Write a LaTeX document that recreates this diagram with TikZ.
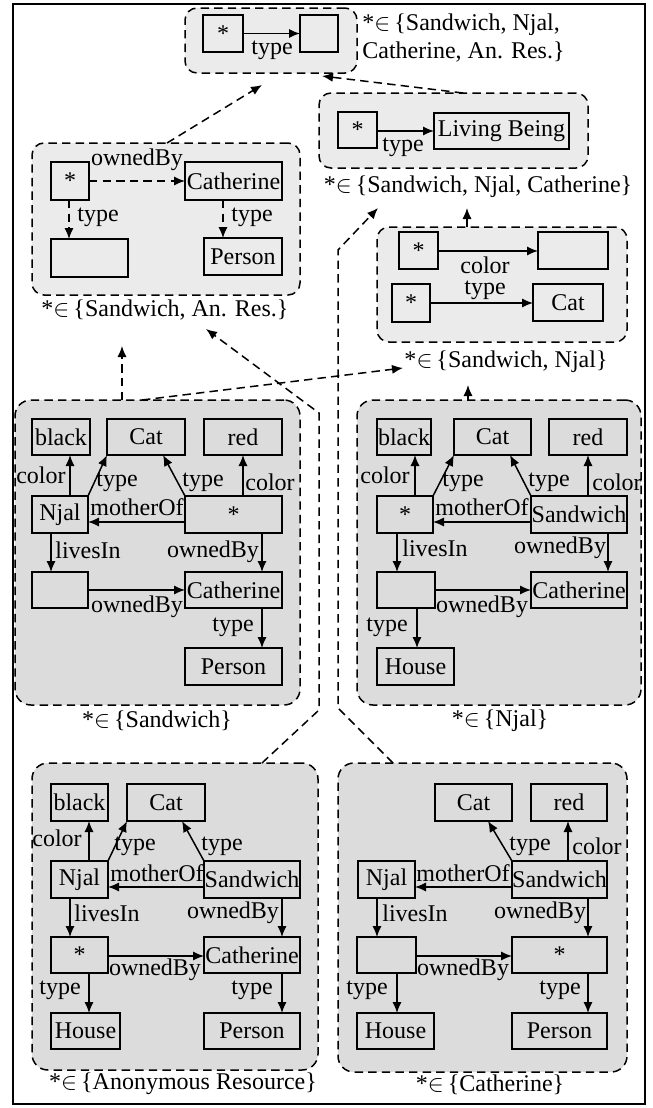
\documentclass[tikz,border=0pt]{standalone}
\usepackage{fontspec}
\setmainfont{Liberation Serif}
\usetikzlibrary{arrows.meta}
\definecolor{lightp}{HTML}{EBEBEB}
\definecolor{darkp}{HTML}{DCDCDC}
\newcommand{\mybox}[6]{\node[boxst, minimum width={(#4-#2)*0.5pt}, minimum height={(#5-#3)*0.5pt}] (#1) at ({(#2+#4)/2},{(#3+#5)/2}) {#6};}
\newcommand{\mypanel}[6]{\node[panelst, fill=#6, minimum width={(#4-#2)*0.5pt}, minimum height={(#5-#3)*0.5pt}] (#1) at ({(#2+#4)/2},{(#3+#5)/2}) {};}
\newcommand{\mylab}[4]{\node[lblst] (#1) at (#2,#3) {#4};}
\tikzset{
  boxst/.style={draw, line width=0.75pt, inner sep=0pt, outer sep=0pt},
  panelst/.style={draw, line width=0.75pt, dash pattern=on 4.2pt off 2.6pt, rounded corners=6pt, inner sep=0pt, outer sep=0pt},
  lblst/.style={inner sep=0pt},
  arr/.style={draw, line width=0.75pt, -{Latex[length=5.5pt,width=4.6pt]}},
  darr/.style={arr, dash pattern=on 4.2pt off 2.6pt},
}
\begin{document}
\begin{tikzpicture}[x=0.5pt, y=-0.5pt, font=\fontsize{12}{14}\selectfont]
\useasboundingbox (0,0) rectangle (653,1108);
\fill[white] (0,0) rectangle (653,1108);
\draw[line width=1pt] (12.5,4) rectangle (645,1104);

% ---------- panels ----------
\mypanel{pA}{185}{8}{357}{73}{lightp}
\mypanel{pB}{319}{93}{588}{168}{lightp}
\mypanel{pC}{32}{143}{300}{295}{lightp}
\mypanel{pD}{377}{227}{627}{342}{lightp}
\tikzset{panelst/.append style={rounded corners=8pt}}
\mypanel{pE}{15}{400}{300}{705}{darkp}
\mypanel{pF}{357}{400}{641}{705}{darkp}
\mypanel{pG}{32}{763}{318}{1070}{darkp}
\mypanel{pH}{338}{763}{627}{1072}{darkp}

% ---------- panel labels ----------
\node[lblst, anchor=west, align=left] (lA) at (362,38.5) {*$\in$\,\{Sandwich, Njal,\\Catherine, An. Res.\}};
\mylab{lB}{478}{187}{*$\in$\,\{Sandwich, Njal, Catherine\}}
\mylab{lC}{165}{310}{*$\in$\,\{Sandwich, An. Res.\}}
\mylab{lD}{506}{362}{*$\in$\,\{Sandwich, Njal\}}
\mylab{lE}{157}{721}{*$\in$\,\{Sandwich\}}
\mylab{lF}{500}{721}{*$\in$\,\{Njal\}}
\mylab{lG}{183}{1084}{*$\in$\,\{Anonymous Resource\}}
\mylab{lH}{490}{1085}{*$\in$\,\{Catherine\}}

% ---------- panel A ----------
\mybox{aStar}{203}{15}{243}{52}{*}
\mybox{aEmpty}{300}{15}{338}{52}{}
\draw[arr] (aStar.east) -- (aEmpty.west);
\mylab{aT}{272}{50}{type}

% ---------- panel B ----------
\mybox{bStar}{338}{112}{377}{148}{*}
\mybox{bLB}{434}{113}{569}{149}{Living Being}
\draw[arr] (bStar.east |- 0,131) -- (bLB.west |- 0,131);
\mylab{bT}{403}{147}{type}

% ---------- panel C ----------
\mybox{cStar}{51}{162}{89}{200}{*}
\mybox{cCath}{185}{162}{282}{200}{Catherine}
\mybox{cEmpty}{51}{239}{128}{277}{}
\mybox{cPerson}{204}{238}{282}{275}{Person}
\draw[darr] (cStar.east) -- (cCath.west);
\mylab{cO}{137}{160}{ownedBy}
\draw[darr] (cStar.south -| 69,0) -- (cEmpty.north -| 69,0);
\mylab{cT1}{98}{217}{type}
\draw[darr] (cCath.south -| 223,0) -- (cPerson.north -| 223,0);
\mylab{cT2}{252}{217}{type}

% ---------- panel D ----------
\mybox{dStarA}{399}{232}{438}{269}{*}
\mybox{dEmpty}{538}{232}{608}{269}{}
\mybox{dStarB}{392}{284}{430}{322}{*}
\mybox{dCat}{533}{284}{603}{321}{Cat}
\draw[arr] (dStarA.east |- 0,251) -- (dEmpty.west |- 0,251);
\draw[arr] (dStarB.east |- 0,303) -- (dCat.west |- 0,303);
\mylab{dC}{485}{265}{color}
\mylab{dT}{485}{290}{type}

% ---------- panel E ----------
\mybox{eBlack}{32}{419}{90}{455}{black}
\mybox{eCat}{107}{419}{185}{455}{Cat}
\mybox{eRed}{204}{419}{282}{455}{red}
\mybox{eNjal}{32}{496}{88}{533}{Njal}
\mybox{eStar}{185}{496}{282}{533}{*}
\mybox{eEmpty}{32}{572}{88}{608}{}
\mybox{eCath}{185}{572}{282}{608}{Catherine}
\mybox{ePerson}{185}{648}{282}{685}{Person}
\draw[arr] (eNjal.north -| 70,0) -- (eBlack.south -| 70,0);
\mylab{eL1}{41}{475}{color}
\draw[arr] (eNjal.north east) -- (eCat.south west);
\mylab{eL2}{117}{482}{type}
\draw[arr] (eStar.north west) -- (eCat.south -| 163,0);
\mylab{eL3}{203}{482}{type}
\draw[arr] (eStar.north -| 243,0) -- (eRed.south -| 243,0);
\mylab{eL4}{270}{482}{color}
\draw[arr] (eStar.west |- 0,522) -- (eNjal.east |- 0,522);
\mylab{eL5}{137}{507}{motherOf}
\draw[arr] (eNjal.south -| 51,0) -- (eEmpty.north -| 51,0);
\mylab{eL6}{88}{550}{livesIn}
\draw[arr] (eStar.south -| 262,0) -- (eCath.north -| 262,0);
\mylab{eL7}{213}{552}{ownedBy}
\draw[arr] (eEmpty.east |- 0,590) -- (eCath.west |- 0,590);
\mylab{eL8}{137}{607}{ownedBy}
\draw[arr] (eCath.south -| 262,0) -- (ePerson.north -| 262,0);
\mylab{eL9}{233}{627}{type}

% ---------- panel F ----------
\mybox{fBlack}{377}{419}{431}{455}{black}
\mybox{fCat}{454}{419}{531}{455}{Cat}
\mybox{fRed}{549}{419}{627}{455}{red}
\mybox{fStar}{377}{496}{433}{533}{*}
\mybox{fSand}{531}{496}{627}{533}{Sandwich}
\mybox{fEmpty}{377}{572}{435}{608}{}
\mybox{fCath}{531}{572}{627}{608}{Catherine}
\mybox{fHouse}{377}{648}{454}{685}{House}
\draw[arr] (fStar.north -| 415,0) -- (fBlack.south -| 415,0);
\mylab{fL1}{385}{475}{color}
\draw[arr] (fStar.north east) -- (fCat.south west);
\mylab{fL2}{463}{482}{type}
\draw[arr] (fSand.north west) -- (fCat.south -| 510,0);
\mylab{fL3}{549}{482}{type}
\draw[arr] (fSand.north -| 588,0) -- (fRed.south -| 588,0);
\mylab{fL4}{617}{482}{color}
\draw[arr] (fSand.west |- 0,522) -- (fStar.east |- 0,522);
\mylab{fL5}{482}{507}{motherOf}
\draw[arr] (fStar.south -| 397,0) -- (fEmpty.north -| 397,0);
\mylab{fL6}{435}{548}{livesIn}
\draw[arr] (fSand.south -| 608,0) -- (fCath.north -| 608,0);
\mylab{fL7}{560}{548}{ownedBy}
\draw[arr] (fEmpty.east |- 0,590) -- (fCath.west |- 0,590);
\mylab{fL8}{482}{607}{ownedBy}
\draw[arr] (fEmpty.south -| 417,0) -- (fHouse.north -| 417,0);
\mylab{fL9}{387}{627}{type}

% ---------- panel G ----------
\mybox{gBlack}{51}{784}{108}{821}{black}
\mybox{gCat}{127}{784}{205}{821}{Cat}
\mybox{gNjal}{51}{861}{108}{898}{Njal}
\mybox{gSand}{204}{861}{300}{898}{Sandwich}
\mybox{gStar}{51}{937}{108}{973}{*}
\mybox{gCath}{204}{937}{300}{973}{Catherine}
\mybox{gHouse}{51}{1013}{120}{1049}{House}
\mybox{gPerson}{204}{1013}{300}{1049}{Person}
\draw[arr] (gNjal.north -| 89,0) -- (gBlack.south -| 89,0);
\mylab{gL1}{57}{838}{color}
\draw[arr] (gNjal.north east) -- (gCat.south west);
\mylab{gL2}{135}{846}{type}
\draw[arr] (gSand.north west) -- (gCat.south -| 182,0);
\mylab{gL3}{222}{846}{type}
\draw[arr] (gSand.west |- 0,887) -- (gNjal.east |- 0,887);
\mylab{gL4}{157}{873}{motherOf}
\draw[arr] (gNjal.south -| 70,0) -- (gStar.north -| 70,0);
\mylab{gL5}{107}{913}{livesIn}
\draw[arr] (gSand.south -| 282,0) -- (gCath.north -| 282,0);
\mylab{gL6}{233}{913}{ownedBy}
\draw[arr] (gStar.east |- 0,956) -- (gCath.west |- 0,956);
\mylab{gL7}{155}{970}{ownedBy}
\draw[arr] (gStar.south -| 89,0) -- (gHouse.north -| 89,0);
\mylab{gL8}{60}{990}{type}
\draw[arr] (gCath.south -| 282,0) -- (gPerson.north -| 282,0);
\mylab{gL9}{252}{990}{type}

% ---------- panel H ----------
\mybox{hCat}{435}{784}{512}{821}{Cat}
\mybox{hRed}{531}{784}{607}{821}{red}
\mybox{hNjal}{358}{861}{415}{898}{Njal}
\mybox{hSand}{512}{861}{607}{898}{Sandwich}
\mybox{hEmpty}{357}{937}{416}{973}{}
\mybox{hStar}{512}{937}{607}{973}{*}
\mybox{hHouse}{357}{1013}{434}{1049}{House}
\mybox{hPerson}{512}{1013}{607}{1049}{Person}
\draw[arr] (hSand.north west) -- (hCat.south -| 488,0);
\mylab{hL1}{530}{846}{type}
\draw[arr] (hSand.north -| 568,0) -- (hRed.south -| 568,0);
\mylab{hL2}{597}{846}{color}
\draw[arr] (hSand.west |- 0,887) -- (hNjal.east |- 0,887);
\mylab{hL3}{463}{873}{motherOf}
\draw[arr] (hNjal.south -| 377,0) -- (hEmpty.north -| 377,0);
\mylab{hL4}{415}{913}{livesIn}
\draw[arr] (hSand.south -| 588,0) -- (hStar.north -| 588,0);
\mylab{hL5}{540}{913}{ownedBy}
\draw[arr] (hEmpty.east |- 0,956) -- (hStar.west |- 0,956);
\mylab{hL6}{463}{970}{ownedBy}
\draw[arr] (hEmpty.south -| 397,0) -- (hHouse.north -| 397,0);
\mylab{hL7}{367}{990}{type}
\draw[arr] (hStar.south -| 588,0) -- (hPerson.north -| 588,0);
\mylab{hL8}{560}{990}{type}

% ---------- connectors between panels ----------
\coordinate (kBA) at (322,76);
\coordinate (kCA) at (262,85);
\coordinate (kDB) at (467,208);
\coordinate (kEC) at (122,346);
\coordinate (kED) at (403,368);
\coordinate (kFD) at (468,385);
\coordinate (kG1) at (319,710);
\coordinate (kG2) at (319,413);
\coordinate (kGC) at (206,329);
\coordinate (kH1) at (338,708);
\coordinate (kH2) at (338,250);
\coordinate (kHB) at (378,208);
\draw[darr] (pB.north -| 463,0) -- (kBA);
\draw[darr] (pC.north -| 167,0) -- (kCA);
\draw[darr] (pD.north -| 467,0) -- (kDB);
\draw[darr] (pE.north -| 122,0) -- (kEC);
\draw[darr] (pE.north -| 142,0) -- (kED);
\draw[darr] (pF.north -| 468,0) -- (kFD);
\draw[darr] (pG.north -| 262,0) -- (kG1) -- (kG2) -- (kGC);
\draw[darr] (pH.north -| 393,0) -- (kH1) -- (kH2) -- (kHB);
\end{tikzpicture}
\end{document}
